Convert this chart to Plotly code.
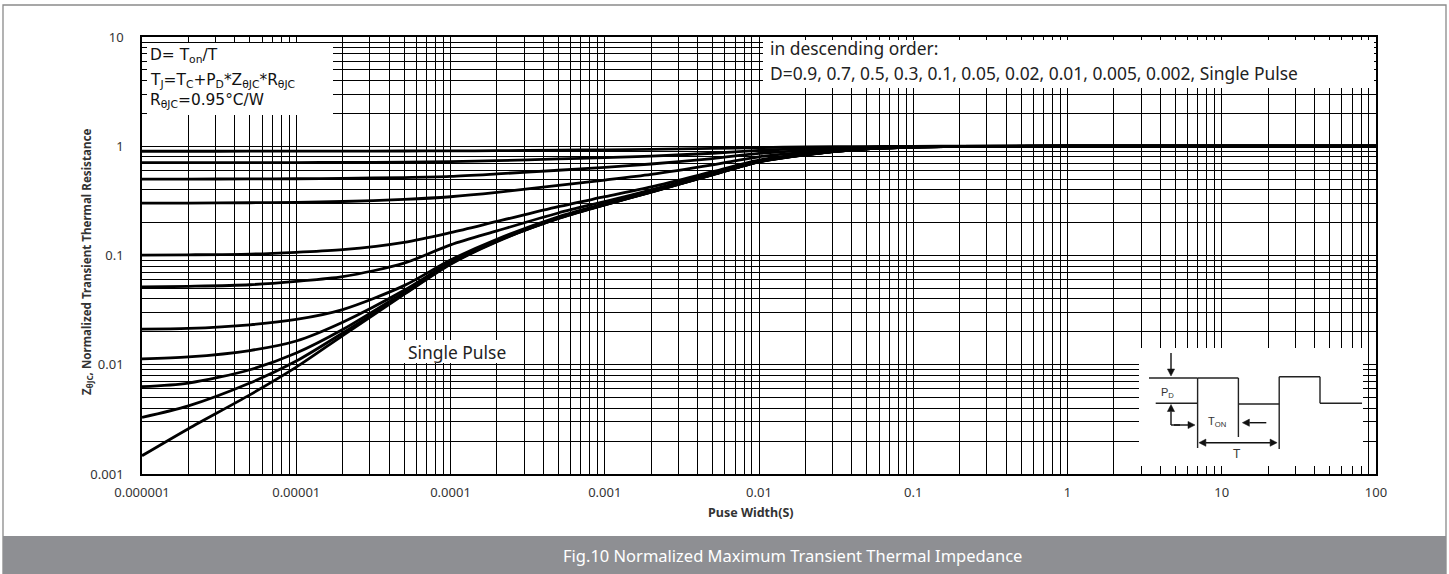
import math
import plotly.graph_objects as go

# ---------------- data ----------------
pulse_width = [1e-6, 2e-6, 5e-6, 1e-5, 2e-5, 5e-5, 1e-4, 2e-4, 5e-4, 1e-3,
               2e-3, 5e-3, 1e-2, 2e-2, 5e-2, 1e-1, 2e-1, 1, 10, 100]

z_d09 = [0.900, 0.900, 0.901, 0.902, 0.903, 0.905, 0.907, 0.911, 0.920, 0.928,
         0.938, 0.955, 0.972, 0.984, 0.994, 0.998, 1.0, 1.0, 1.0, 1.0]
z_d07 = [0.707, 0.707, 0.708, 0.709, 0.711, 0.716, 0.724, 0.738, 0.765, 0.787,
         0.813, 0.863, 0.916, 0.951, 0.983, 0.994, 0.999, 1.0, 1.0, 1.0]
z_d05 = [0.500, 0.501, 0.502, 0.504, 0.508, 0.517, 0.530, 0.558, 0.603, 0.642,
         0.688, 0.772, 0.860, 0.917, 0.972, 0.990, 0.998, 1.0, 1.0, 1.0]
z_d03 = [0.301, 0.302, 0.304, 0.307, 0.312, 0.326, 0.345, 0.378, 0.438, 0.490,
         0.552, 0.675, 0.800, 0.882, 0.960, 0.987, 0.997, 1.0, 1.0, 1.0]
z_d01 = [0.1010, 0.1015, 0.1030, 0.107, 0.113, 0.132, 0.162, 0.205, 0.280, 0.345,
         0.425, 0.585, 0.748, 0.852, 0.953, 0.985, 0.997, 1.0, 1.0, 1.0]
z_d005 = [0.0515, 0.0522, 0.0540, 0.0580, 0.064, 0.085, 0.125, 0.168, 0.245, 0.312,
          0.398, 0.565, 0.735, 0.845, 0.950, 0.984, 0.996, 1.0, 1.0, 1.0]
z_d002 = [0.0212, 0.0215, 0.0232, 0.0260, 0.032, 0.053, 0.091, 0.141, 0.226, 0.298,
          0.388, 0.556, 0.727, 0.840, 0.948, 0.983, 0.996, 1.0, 1.0, 1.0]
z_d001 = [0.0113, 0.0118, 0.0135, 0.0165, 0.0245, 0.048, 0.087, 0.137, 0.222, 0.294,
          0.384, 0.552, 0.724, 0.838, 0.947, 0.983, 0.996, 1.0, 1.0, 1.0]
z_d0005 = [0.0063, 0.0068, 0.0090, 0.0128, 0.021, 0.046, 0.085, 0.136, 0.220, 0.292,
           0.382, 0.550, 0.722, 0.837, 0.946, 0.983, 0.996, 1.0, 1.0, 1.0]
z_d0002 = [0.0033, 0.0042, 0.0068, 0.0108, 0.0195, 0.0445, 0.084, 0.135, 0.219, 0.291,
           0.381, 0.549, 0.721, 0.836, 0.946, 0.982, 0.996, 1.0, 1.0, 1.0]
z_single = [0.00147, 0.0026, 0.0053, 0.0095, 0.0185, 0.044, 0.083, 0.134, 0.218, 0.290,
            0.380, 0.548, 0.720, 0.835, 0.945, 0.982, 0.996, 1.0, 1.0, 1.0]

series_names = ["D=0.9", "D=0.7", "D=0.5", "D=0.3", "D=0.1", "D=0.05", "D=0.02",
                "D=0.01", "D=0.005", "D=0.002", "Single Pulse"]
series_values = [z_d09, z_d07, z_d05, z_d03, z_d01, z_d005, z_d002, z_d001,
                 z_d0005, z_d0002, z_single]

x_tick_vals = [1e-6, 1e-5, 1e-4, 1e-3, 1e-2, 1e-1, 1, 10, 100]
x_tick_text = ["0.000001", "0.00001", "0.0001", "0.001", "0.01", "0.1", "1", "10", "100"]
y_tick_vals = [0.001, 0.01, 0.1, 1, 10]
y_tick_text = ["0.001", "0.01", "0.1", "1", "10"]

# ---------------- layout geometry ----------------
W, H = 1449, 574
L, R, T, B = 142, 1376, 37, 474


def P(px, py):
    return (px - L) / (R - L), (B - py) / (B - T)


fig = go.Figure()
for name, vals in zip(series_names, series_values):
    fig.add_trace(go.Scatter(x=pulse_width, y=vals, mode="lines", name=name,
                             line=dict(color="black", width=2.8, shape="spline", smoothing=0.8),
                             showlegend=False, hoverinfo="skip"))

shapes = []
annotations = []


def rect(x0, y0, x1, y1, fill="white", line_color=None, line_width=0, layer="above"):
    a = P(x0, y0)
    b = P(x1, y1)
    shapes.append(dict(type="rect", xref="paper", yref="paper", x0=a[0], y0=b[1], x1=b[0], y1=a[1],
                       fillcolor=fill, line=dict(color=line_color or fill, width=line_width),
                       layer=layer))


def seg(x0, y0, x1, y1, color="#222", width=1.4):
    a = P(x0, y0)
    b = P(x1, y1)
    shapes.append(dict(type="line", xref="paper", yref="paper", x0=a[0], y0=a[1], x1=b[0], y1=b[1],
                       line=dict(color=color, width=width), layer="above"))


def head(hx, hy, tx, ty, size=7.0, half=3.6):
    d = math.hypot(hx - tx, hy - ty)
    ux, uy = (hx - tx) / d, (hy - ty) / d
    bx, by = hx - ux * size, hy - uy * size
    pts = [(hx, hy), (bx - uy * half, by + ux * half), (bx + uy * half, by - ux * half)]
    pp = [P(a, b) for a, b in pts]
    path = "M {} {} L {} {} L {} {} Z".format(pp[0][0], pp[0][1], pp[1][0], pp[1][1], pp[2][0], pp[2][1])
    shapes.append(dict(type="path", xref="paper", yref="paper", path=path,
                       fillcolor="#111", line=dict(color="#111", width=0.5), layer="above"))
    return bx, by


def arrow(hx, hy, tx, ty, both=False):
    bx, by = head(hx, hy, tx, ty)
    sx, sy = tx, ty
    if both:
        sx, sy = head(tx, ty, hx, hy)
    seg(sx, sy, bx, by, color="#111", width=1.4)


def text(px, py, s, size, family="Noto Sans", color="#111", xanchor="left", yanchor="middle", angle=0):
    x, y = P(px, py)
    annotations.append(dict(xref="paper", yref="paper", x=x, y=y, text=s, showarrow=False,
                            xanchor=xanchor, yanchor=yanchor, textangle=angle,
                            font=dict(size=size, family=family, color=color)))


# white label boxes over the grid
rect(147, 43, 333, 115)
rect(763, 40, 1374, 88)
rect(403, 340, 522, 363)
rect(1139, 348, 1363, 466)

# caption bar and outer frame
rect(3, 536, 1446, 575, fill="#8e8f93")
shapes.append(dict(type="rect", xref="paper", yref="paper",
                   x0=P(3, 0)[0], x1=P(1446, 0)[0], y0=P(0, 575)[1], y1=P(0, 5)[1],
                   line=dict(color="#8a8a8a", width=1.3), fillcolor="rgba(0,0,0,0)", layer="below"))

# top-left formula text
text(148, 56, "D= T<sub>on</sub>/T", 15.4, "DejaVu Sans")
text(148, 81, "T<sub>J</sub>=T<sub>C</sub>+P<sub>D</sub>*Z<sub>θJC</sub>*R<sub>θJC</sub>", 15.4, "DejaVu Sans")
text(148, 101, "R<sub>θJC</sub>=0.95°C/W", 15.4, "DejaVu Sans")

# top-right legend text
text(768, 48, "in descending order:", 17.4, "Noto Sans", "#222")
text(768, 73, "D=0.9, 0.7, 0.5, 0.3, 0.1, 0.05, 0.02, 0.01, 0.005, 0.002, Single Pulse",
     17.4, "Noto Sans", "#222")
text(406, 352, "Single Pulse", 17.4, "Noto Sans", "#222")

# axis titles
text(87, 262, "<b>Z<sub>θJC</sub>, Normalized Transient Thermal Resistance</b>", 11.6,
     "Noto Sans", "#333", xanchor="center", angle=-90)
text(751, 512, "<b>Puse Width(S)</b>", 12.5, "Noto Sans", "#333", xanchor="center")

# caption
text(792, 555, "Fig.10 Normalized Maximum Transient Thermal Impedance", 16.5, "Noto Sans", "white",
     xanchor="center")

# inset pulse diagram
seg(1149, 378, 1197.6, 378)
seg(1155.7, 403.3, 1197.6, 403.3)
seg(1197.6, 378, 1197.6, 448)
seg(1197.6, 378, 1238.4, 378)
seg(1238.4, 378, 1238.4, 437)
seg(1238.4, 404, 1279.2, 404)
seg(1279.2, 376.7, 1279.2, 449)
seg(1279.2, 376.7, 1320, 376.7)
seg(1320, 376.7, 1320, 403.3)
seg(1320, 403.3, 1362, 403.3)
arrow(1171, 376, 1171, 353)
arrow(1171, 404.5, 1171, 425)
seg(1171, 425, 1180, 425, color="#111")
arrow(1195, 425, 1174, 425)
arrow(1242.4, 422.7, 1266.3, 422.7)
arrow(1277.1, 442.7, 1198.9, 442.7, both=True)
text(1167.6, 392.7, "P<sub>D</sub>", 11, "Liberation Sans", "#333", xanchor="center")
text(1217, 421.6, "T<sub>ON</sub>", 11, "Liberation Sans", "#333", xanchor="center")
text(1237.3, 454, "T", 12, "Liberation Sans", "#333", xanchor="center")

grid = dict(color="black", width=1.4)

fig.update_layout(
    width=W, height=H,
    margin=dict(l=L, r=W - R, t=T, b=H - B, pad=0),
    paper_bgcolor="white", plot_bgcolor="white",
    shapes=shapes, annotations=annotations,
    xaxis=dict(type="log", range=[-6, 2], tickvals=x_tick_vals, ticktext=x_tick_text,
               showgrid=True, gridcolor=grid["color"], gridwidth=grid["width"],
               minor=dict(dtick="D1", showgrid=True, gridcolor=grid["color"], gridwidth=grid["width"]),
               showline=True, linecolor="black", linewidth=1.6, mirror=True,
               ticks="", ticklabelstandoff=6, zeroline=False,
               tickfont=dict(size=13, family="Noto Sans", color="#333")),
    yaxis=dict(type="log", range=[-3, 1], tickvals=y_tick_vals, ticktext=y_tick_text,
               showgrid=True, gridcolor=grid["color"], gridwidth=grid["width"],
               minor=dict(dtick="D1", showgrid=True, gridcolor=grid["color"], gridwidth=grid["width"]),
               showline=True, linecolor="black", linewidth=1.6, mirror=True,
               ticks="", ticklabelstandoff=14, zeroline=False,
               tickfont=dict(size=13, family="Noto Sans", color="#333")),
)

fig.write_html("out.html", config={"displayModeBar": False},
               post_script="document.body.style.margin='0px';")
